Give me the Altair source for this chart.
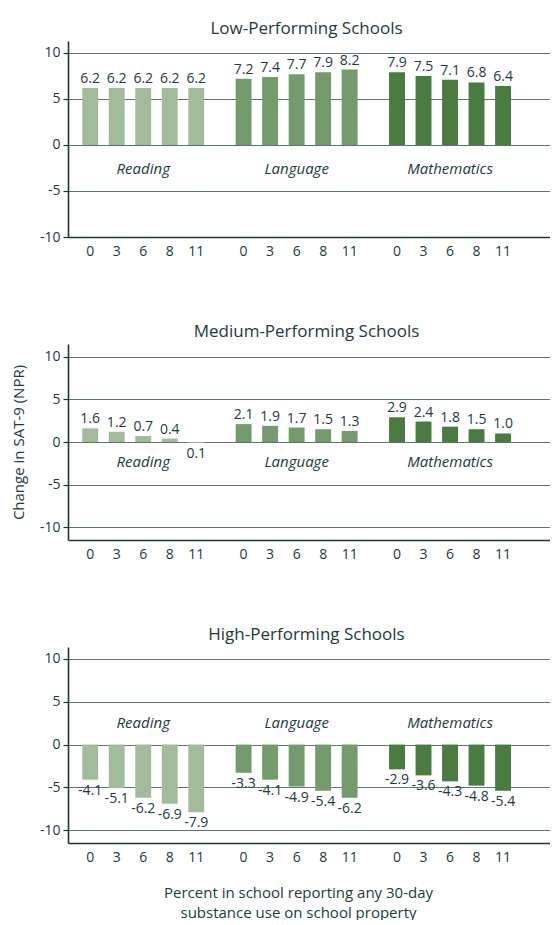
import altair as alt
import pandas as pd

FONT = "Open Sans"
TEXT = "#1d3a3d"
GRID = "#5d7675"
AXIS = "#1d3535"

panels = ["Low-Performing Schools", "Medium-Performing Schools", "High-Performing Schools"]
subjects = ["Reading", "Language", "Mathematics"]
percents = ["0", "3", "6", "8", "11"]
subject_colors = ["#a2bb9b", "#749b6b", "#4a7b40"]

# values per panel, per subject (order of percents)
low_reading = [6.2, 6.2, 6.2, 6.2, 6.2]
low_language = [7.2, 7.4, 7.7, 7.9, 8.2]
low_math = [7.9, 7.5, 7.1, 6.8, 6.4]

medium_reading = [1.6, 1.2, 0.7, 0.4, -0.1]
medium_reading_labels = ["1.6", "1.2", "0.7", "0.4", "0.1"]
medium_language = [2.1, 1.9, 1.7, 1.5, 1.3]
medium_math = [2.9, 2.4, 1.8, 1.5, 1.0]

high_reading = [-4.1, -5.1, -6.2, -6.9, -7.9]
high_language = [-3.3, -4.1, -4.9, -5.4, -6.2]
high_math = [-2.9, -3.6, -4.3, -4.8, -5.4]

subject_label_y = [-2.6, -2.4, 2.5]
y_domains = [[-10, 11.3], [-11.5, 11.5], [-11.5, 11.4]]
y_ticks = [-10, -5, 0, 5, 10]

panel_values = [
    [low_reading, low_language, low_math],
    [medium_reading, medium_language, medium_math],
    [high_reading, high_language, high_math],
]
panel_labels = [
    [None, None, None],
    [medium_reading_labels, None, None],
    [None, None, None],
]

x_title = ["Percent in school reporting any 30-day", "substance use on school property"]
y_title = "Change in SAT-9 (NPR)"

W = 482
H = 196


def make_panel(i):
    rows = []
    for s, subj in enumerate(subjects):
        vals = panel_values[i][s]
        labs = panel_labels[i][s]
        for k, p in enumerate(percents):
            lab = labs[k] if labs is not None else f"{vals[k]:.1f}"
            rows.append({"subject": subj, "percent": p, "value": vals[k], "label": lab})
    df = pd.DataFrame(rows)
    sub_df = pd.DataFrame({"subject": subjects, "value": [subject_label_y[i]] * 3})

    xscale = alt.Scale(domain=subjects, paddingInner=0.136, paddingOuter=0.139, align=0.21)
    xoff = alt.Scale(domain=percents, paddingInner=0.4, paddingOuter=0.2)
    yscale = alt.Scale(domain=y_domains[i], nice=False, zero=False)

    yaxis = alt.Axis(
        values=y_ticks, grid=True, gridColor=GRID, gridWidth=1.2,
        domainColor=AXIS, domainWidth=1.6, tickColor=AXIS, tickSize=5, tickWidth=1.2,
        labelFont=FONT, labelFontSize=14, labelColor=TEXT, labelPadding=3,
        labelExpr="'' + datum.value",
        title=y_title, titleFont=FONT, titleFontSize=15, titleFontWeight="normal",
        titleColor=TEXT, titlePadding=13, titleOpacity=1 if i == 1 else 0,
    )
    if i == 2:
        xaxis = alt.Axis(labels=False, ticks=False, domainColor=AXIS, domainWidth=1.6,
                         title=x_title, titleFont=FONT, titleFontSize=15,
                         titleFontWeight="normal", titleColor=TEXT, titlePadding=42,
                         titleLineHeight=20, titleX=W / 2 - 11)
    else:
        xaxis = alt.Axis(labels=False, ticks=False, domainColor=AXIS, domainWidth=1.6, title=None)

    X = alt.X("subject:N", scale=xscale, axis=xaxis, sort=subjects)
    XO = alt.XOffset("percent:N", scale=xoff, sort=percents)
    Y = alt.Y("value:Q", scale=yscale, axis=yaxis)

    base = alt.Chart(df)
    bars = base.mark_bar().encode(
        x=X, xOffset=XO, y=Y,
        color=alt.Color("subject:N", scale=alt.Scale(domain=subjects, range=subject_colors), legend=None),
    )
    pos_lab = base.transform_filter("datum.value >= 0").mark_text(
        font=FONT, fontSize=14, color=TEXT, baseline="alphabetic", dy=-5
    ).encode(x=alt.X("subject:N", sort=subjects), xOffset=alt.XOffset("percent:N", sort=percents),
             y=alt.Y("value:Q"), text="label:N")
    neg_lab = base.transform_filter("datum.value < 0").mark_text(
        font=FONT, fontSize=14, color=TEXT, baseline="top", dy=4
    ).encode(x=alt.X("subject:N", sort=subjects), xOffset=alt.XOffset("percent:N", sort=percents),
             y=alt.Y("value:Q"), text="label:N")
    tick_lab = base.mark_text(
        font=FONT, fontSize=14, color=TEXT, baseline="middle"
    ).encode(x=alt.X("subject:N", sort=subjects), xOffset=alt.XOffset("percent:N", sort=percents),
             y=alt.value(H + 15), text="percent:N")
    subj_lab = alt.Chart(sub_df).mark_text(
        font=FONT, fontSize=15, fontStyle="italic", color=TEXT, baseline="middle"
    ).encode(x=alt.X("subject:N", sort=subjects), y=alt.Y("value:Q"), text="subject:N")

    return alt.layer(bars, pos_lab, neg_lab, tick_lab, subj_lab).properties(
        width=W, height=H,
        title=alt.TitleParams(text=panels[i], anchor="middle", frame="group", font=FONT,
                              fontSize=17, fontWeight="normal", color=TEXT, offset=3.5, dx=-2.5),
    )


chart = alt.vconcat(make_panel(0), make_panel(1), make_panel(2), spacing=63).properties(
    padding={"left": 3, "top": 11, "right": 0, "bottom": 0}
).configure_view(stroke=None)

chart.save("out.html", embed_options={"renderer": "svg", "actions": False})
